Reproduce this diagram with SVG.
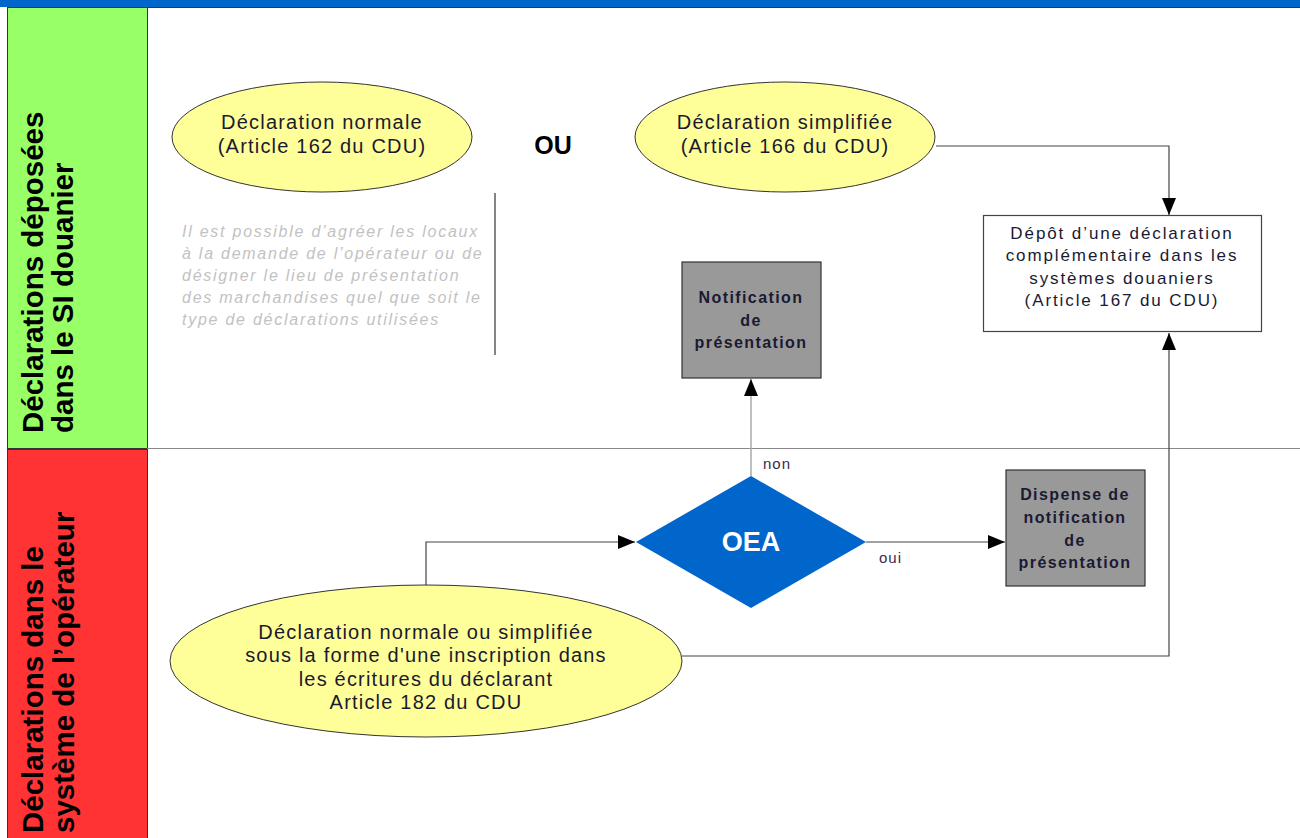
<svg xmlns="http://www.w3.org/2000/svg" width="1300" height="838" viewBox="0 0 1300 838">
<defs>
<marker id="arr" markerUnits="userSpaceOnUse" markerWidth="18" markerHeight="14" refX="17" refY="7" orient="auto">
<path d="M0,0 L17,7 L0,14 z" fill="#000"/>
</marker>
<style>
.lane{font-family:"Liberation Sans",Arial,sans-serif;font-weight:bold;font-size:29.5px;fill:#000}
.ell{fill:#ffff99;stroke:#333;stroke-width:1}
.et{font-family:"Liberation Sans",Arial,sans-serif;font-size:20px;letter-spacing:1.2px;fill:#1a1a2e;text-anchor:middle}
.box{fill:#999999;stroke:#333;stroke-width:1.2}
.bt{font-family:"Liberation Sans",Arial,sans-serif;font-size:16px;font-weight:bold;letter-spacing:1.4px;fill:#1a1a33;text-anchor:middle}
.wt{font-family:"Liberation Sans",Arial,sans-serif;font-size:17px;letter-spacing:1.9px;fill:#1a1a33;text-anchor:middle}
.note{font-family:"Liberation Sans",Arial,sans-serif;font-size:16px;font-style:italic;letter-spacing:1.75px;fill:#c2c2c2}
.lbl{font-family:"Liberation Sans",Arial,sans-serif;font-size:15px;letter-spacing:1px;fill:#3a2a50}
.con{fill:none;stroke:#444;stroke-width:1.2}
</style>
</defs>
<rect x="0" y="0" width="1300" height="838" fill="#ffffff"/>
<g id="header">
<rect x="0" y="0" width="1300" height="7" fill="#0066cc"/>
<line x1="7" y1="7.5" x2="1300" y2="7.5" stroke="#333" stroke-width="1"/>
</g>
<g id="lane-si">
<rect x="7.5" y="7.5" width="140" height="441" fill="#99ff66" stroke="#333" stroke-width="1"/>
<text class="lane" transform="translate(43,433) rotate(-90)">Déclarations déposées</text>
<text class="lane" transform="translate(73,433) rotate(-90)">dans le SI douanier</text>
</g>
<g id="lane-operateur">
<rect x="7.5" y="449.5" width="140" height="400" fill="#ff3333" stroke="#333" stroke-width="1"/>
<text class="lane" transform="translate(43,833) rotate(-90)">Déclarations dans le</text>
<text class="lane" transform="translate(74,833) rotate(-90)">système de l’opérateur</text>
</g>
<line x1="147" y1="448.5" x2="1300" y2="448.5" stroke="#888" stroke-width="1"/>

<g id="connectors">
<path class="con" d="M936,146 H1169 V215" marker-end="url(#arr)"/>
<path class="con" d="M682,656 H1169 V333" marker-end="url(#arr)"/>
<path class="con" d="M426,586 V542 H635" marker-end="url(#arr)"/>
<path class="con" d="M866,542 H1005" marker-end="url(#arr)"/>
<path fill="none" stroke="#aaa" stroke-width="1.5" d="M751,476 V379" marker-end="url(#arr)"/>
<line x1="495" y1="193" x2="495" y2="355" stroke="#333" stroke-width="1.2"/>
</g>

<g id="decl-normale">
<ellipse class="ell" cx="322" cy="137" rx="150" ry="55"/>
<text class="et" x="322" y="129">Déclaration normale</text>
<text class="et" x="322" y="153">(Article 162 du CDU)</text>
</g>
<g id="ou">
<text x="553" y="154" font-family="Liberation Sans, Arial, sans-serif" font-size="25" font-weight="bold" text-anchor="middle" fill="#000">OU</text>
</g>
<g id="decl-simplifiee">
<ellipse class="ell" cx="785" cy="137" rx="150" ry="55"/>
<text class="et" x="785" y="129">Déclaration simplifiée</text>
<text class="et" x="785" y="153">(Article 166 du CDU)</text>
</g>
<g id="note">
<text class="note" x="182" y="237">Il est possible d’agréer les locaux</text>
<text class="note" x="182" y="259">à la demande de l’opérateur ou de</text>
<text class="note" x="182" y="281">désigner le lieu de présentation</text>
<text class="note" x="182" y="303">des marchandises quel que soit le</text>
<text class="note" x="182" y="325">type de déclarations utilisées</text>
</g>
<g id="depot">
<rect x="983.5" y="215.5" width="278" height="116" fill="#fff" stroke="#444" stroke-width="1.2"/>
<text class="wt" x="1122" y="239">Dépôt d’une déclaration</text>
<text class="wt" x="1122" y="261">complémentaire dans les</text>
<text class="wt" x="1122" y="284">systèmes douaniers</text>
<text class="wt" x="1122" y="306">(Article 167 du CDU)</text>
</g>
<g id="notification">
<rect class="box" x="682" y="262" width="139" height="116"/>
<text class="bt" x="751" y="303">Notification</text>
<text class="bt" x="751" y="326">de</text>
<text class="bt" x="751" y="348">présentation</text>
</g>
<g id="oea">
<polygon points="751,476 866,542 751,608 636,542" fill="#0066cc"/>
<text x="751" y="551" font-family="Liberation Sans, Arial, sans-serif" font-size="27" font-weight="bold" text-anchor="middle" fill="#fff">OEA</text>
<text class="lbl" x="763" y="469">non</text>
<text class="lbl" x="879" y="563">oui</text>
</g>
<g id="dispense">
<rect class="box" x="1006" y="470" width="139" height="116"/>
<text class="bt" x="1075" y="500">Dispense de</text>
<text class="bt" x="1075" y="523">notification</text>
<text class="bt" x="1075" y="546">de</text>
<text class="bt" x="1075" y="568">présentation</text>
</g>
<g id="decl-operateur">
<ellipse class="ell" cx="426" cy="661" rx="256" ry="76"/>
<text class="et" x="426" y="639">Déclaration normale ou simplifiée</text>
<text class="et" x="426" y="662">sous la forme d'une inscription dans</text>
<text class="et" x="426" y="686">les écritures du déclarant</text>
<text class="et" x="426" y="709">Article 182 du CDU</text>
</g>
</svg>
